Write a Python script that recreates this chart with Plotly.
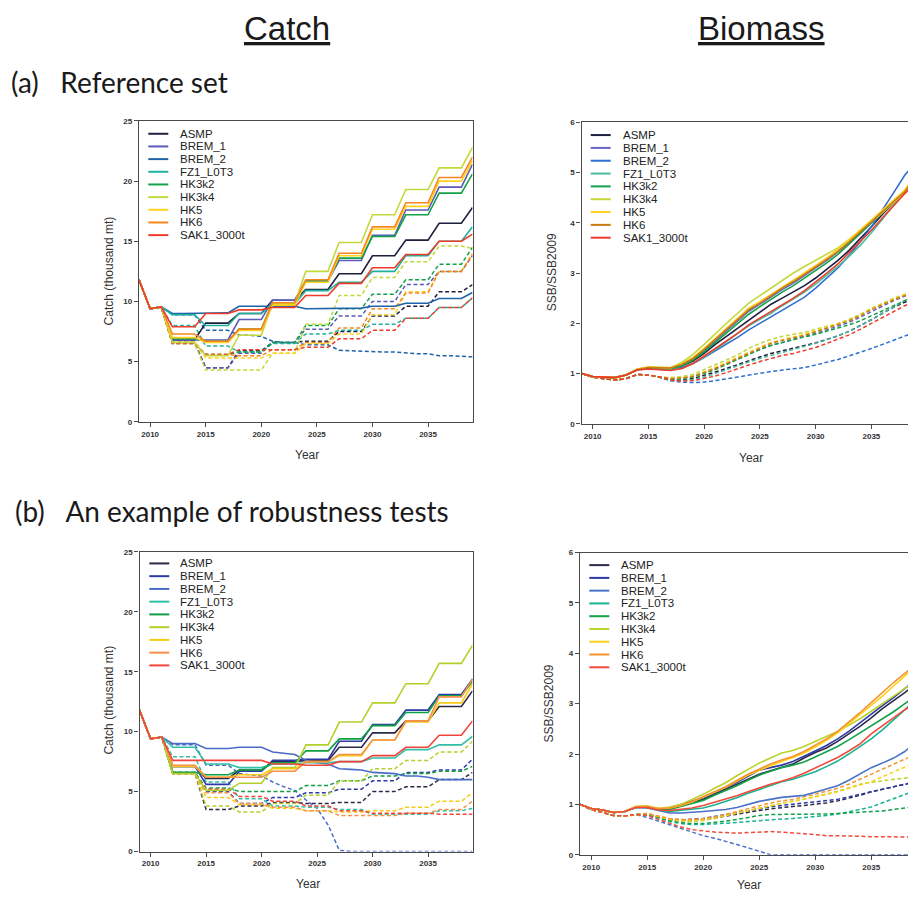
import plotly.graph_objects as go

YEARS = list(range(2009, 2040))
SCENARIOS = ["ASMP", "BREM_1", "BREM_2", "FZ1_L0T3", "HK3k2", "HK3k4", "HK5", "HK6", "SAK1_3000t"]

# ---------------- (a) Reference set : Catch ----------------
A_CATCH_MED = {
    "ASMP": [11.8, 9.4, 9.55, 6.8, 6.8, 6.8, 8.2, 8.2, 8.2, 9.0, 9.0, 9.0, 10.1, 10.1, 10.1, 11.0, 11.0, 11.0, 12.3, 12.3, 12.3, 13.8, 13.8, 13.8, 15.1, 15.1, 15.1, 16.5, 16.5, 16.5, 17.8],
    "BREM_1": [11.8, 9.4, 9.55, 6.8, 6.8, 6.8, 6.8, 6.8, 6.8, 8.5, 8.5, 8.5, 10.1, 10.1, 10.1, 11.7, 11.7, 11.7, 13.4, 13.4, 13.4, 15.5, 15.5, 15.5, 17.6, 17.6, 17.6, 19.5, 19.5, 19.5, 21.4],
    "BREM_2": [11.8, 9.4, 9.55, 9.0, 9.0, 9.0, 9.05, 9.05, 9.05, 9.6, 9.6, 9.6, 9.6, 9.6, 9.6, 9.4, 9.4, 9.4, 9.4, 9.4, 9.45, 9.6, 9.6, 9.6, 9.85, 9.85, 9.85, 10.25, 10.25, 10.25, 10.75],
    "FZ1_L0T3": [11.8, 9.4, 9.55, 8.9, 8.9, 8.9, 8.0, 8.0, 8.0, 9.0, 9.0, 9.0, 9.8, 9.8, 9.8, 10.9, 10.9, 10.9, 11.6, 11.6, 11.6, 12.5, 12.5, 12.5, 13.8, 13.8, 13.8, 15.0, 15.0, 15.0, 16.2],
    "HK3k2": [11.8, 9.4, 9.55, 6.9, 6.9, 6.9, 6.7, 6.7, 6.7, 7.7, 7.7, 7.7, 9.9, 9.9, 9.9, 11.7, 11.7, 11.7, 13.6, 13.6, 13.6, 15.4, 15.4, 15.4, 17.2, 17.2, 17.2, 19.0, 19.0, 19.0, 20.6],
    "HK3k4": [11.8, 9.4, 9.55, 6.6, 6.6, 6.6, 5.5, 5.5, 5.5, 7.2, 7.2, 7.2, 9.8, 9.8, 9.8, 12.5, 12.5, 12.5, 14.9, 14.9, 14.9, 17.2, 17.2, 17.2, 19.3, 19.3, 19.3, 21.1, 21.1, 21.1, 22.8],
    "HK5": [11.8, 9.4, 9.55, 7.0, 7.0, 7.0, 6.6, 6.6, 6.6, 7.6, 7.6, 7.6, 9.7, 9.7, 9.7, 11.6, 11.6, 11.6, 13.8, 13.8, 13.8, 16.0, 16.0, 16.0, 17.9, 17.9, 17.9, 20.0, 20.0, 20.0, 21.7],
    "HK6": [11.8, 9.4, 9.55, 7.3, 7.3, 7.3, 6.7, 6.7, 6.7, 7.7, 7.7, 7.7, 9.9, 9.9, 9.9, 11.8, 11.8, 11.8, 14.0, 14.0, 14.0, 16.2, 16.2, 16.2, 18.2, 18.2, 18.2, 20.3, 20.3, 20.3, 22.0],
    "SAK1_3000t": [11.8, 9.4, 9.55, 7.9, 7.9, 7.9, 9.0, 9.0, 9.0, 9.3, 9.3, 9.3, 9.5, 9.5, 9.5, 10.5, 10.5, 10.5, 11.5, 11.5, 11.5, 12.8, 12.8, 12.8, 13.9, 13.9, 13.9, 15.0, 15.0, 15.0, 15.6],
}
A_CATCH_LOW = {
    "ASMP": [11.8, 9.4, 9.55, 6.6, 6.6, 6.6, 4.5, 4.5, 4.5, 5.9, 5.9, 5.9, 6.6, 6.6, 6.6, 6.7, 6.7, 6.7, 7.5, 7.5, 7.5, 8.8, 8.8, 8.8, 9.6, 9.6, 9.6, 10.8, 10.8, 10.8, 11.4],
    "BREM_1": [11.8, 9.4, 9.55, 6.6, 6.6, 6.6, 4.5, 4.5, 4.5, 5.7, 5.7, 5.7, 6.6, 6.6, 6.6, 7.7, 7.7, 7.7, 8.8, 8.8, 8.8, 10.0, 10.0, 10.0, 11.4, 11.4, 11.4, 12.5, 12.5, 12.5, 13.8],
    "BREM_2": [11.8, 9.4, 9.55, 8.9, 8.9, 8.9, 7.6, 7.6, 7.6, 7.2, 7.2, 7.1, 6.7, 6.6, 6.6, 6.4, 6.4, 6.4, 5.95, 5.9, 5.9, 5.85, 5.8, 5.8, 5.7, 5.65, 5.65, 5.5, 5.5, 5.45, 5.4],
    "FZ1_L0T3": [11.8, 9.4, 9.55, 8.0, 8.0, 8.0, 6.3, 6.3, 6.3, 5.8, 5.8, 5.8, 6.5, 6.5, 6.5, 7.3, 7.3, 7.3, 7.6, 7.6, 7.6, 8.1, 8.1, 8.1, 8.6, 8.6, 8.6, 9.5, 9.5, 9.5, 10.3],
    "HK3k2": [11.8, 9.4, 9.55, 6.5, 6.5, 6.5, 5.6, 5.6, 5.6, 5.8, 5.8, 5.8, 6.6, 6.6, 6.6, 8.0, 8.0, 8.0, 9.4, 9.4, 9.4, 10.6, 10.6, 10.6, 11.8, 11.8, 11.8, 13.1, 13.1, 13.1, 14.5],
    "HK3k4": [11.8, 9.4, 9.55, 6.5, 6.5, 6.5, 4.3, 4.3, 4.3, 4.3, 4.3, 4.3, 5.7, 5.7, 5.7, 8.1, 8.1, 8.1, 10.5, 10.5, 10.5, 12.0, 12.0, 12.0, 13.3, 13.3, 13.3, 14.6, 14.6, 14.6, 14.4],
    "HK5": [11.8, 9.4, 9.55, 6.6, 6.6, 6.6, 5.3, 5.3, 5.3, 5.3, 5.3, 5.3, 5.7, 5.7, 5.7, 6.5, 6.5, 6.5, 7.3, 7.3, 7.3, 8.9, 8.9, 8.9, 10.8, 10.8, 10.8, 12.5, 12.5, 12.5, 14.0],
    "HK6": [11.8, 9.4, 9.55, 6.6, 6.6, 6.6, 5.6, 5.6, 5.6, 5.5, 5.5, 5.5, 6.0, 6.0, 6.0, 6.6, 6.6, 6.6, 7.8, 7.8, 7.8, 9.4, 9.4, 9.4, 10.7, 10.7, 10.7, 12.5, 12.5, 12.5, 13.9],
    "SAK1_3000t": [11.8, 9.4, 9.55, 6.5, 6.5, 6.5, 5.6, 5.6, 5.6, 6.0, 6.0, 6.0, 6.0, 6.0, 6.0, 6.2, 6.2, 6.2, 6.9, 6.9, 6.9, 7.6, 7.6, 7.6, 8.6, 8.6, 8.6, 9.5, 9.5, 9.5, 10.3],
}

# ---------------- (a) Reference set : Biomass ----------------
A_BIO_MED = {
    "ASMP": [1.0, 0.94, 0.93, 0.92, 0.97, 1.08, 1.12, 1.11, 1.1, 1.15, 1.25, 1.4, 1.58, 1.74, 1.9, 2.07, 2.22, 2.38, 2.5, 2.62, 2.75, 2.9, 3.07, 3.25, 3.45, 3.68, 3.92, 4.17, 4.4, 4.62, 4.9],
    "BREM_1": [1.0, 0.94, 0.93, 0.92, 0.97, 1.08, 1.12, 1.11, 1.1, 1.17, 1.29, 1.46, 1.66, 1.86, 2.05, 2.24, 2.38, 2.53, 2.67, 2.8, 2.95, 3.1, 3.25, 3.42, 3.6, 3.8, 4.0, 4.2, 4.42, 4.62, 4.85],
    "BREM_2": [1.0, 0.94, 0.93, 0.92, 0.97, 1.07, 1.1, 1.08, 1.07, 1.12, 1.2, 1.32, 1.45, 1.58, 1.72, 1.87, 2.0, 2.12, 2.25, 2.38, 2.52, 2.7, 2.9, 3.1, 3.35, 3.62, 3.92, 4.25, 4.6, 4.95, 5.2],
    "FZ1_L0T3": [1.0, 0.94, 0.93, 0.92, 0.97, 1.08, 1.11, 1.1, 1.08, 1.1, 1.2, 1.33, 1.48, 1.63, 1.8, 1.95, 2.08, 2.2, 2.35, 2.48, 2.62, 2.78, 2.95, 3.13, 3.33, 3.55, 3.8, 4.08, 4.35, 4.62, 4.88],
    "HK3k2": [1.0, 0.94, 0.93, 0.92, 0.97, 1.08, 1.12, 1.11, 1.1, 1.15, 1.27, 1.43, 1.62, 1.8, 2.0, 2.18, 2.33, 2.48, 2.62, 2.75, 2.9, 3.05, 3.2, 3.37, 3.57, 3.78, 4.0, 4.2, 4.42, 4.63, 4.9],
    "HK3k4": [1.0, 0.94, 0.93, 0.92, 0.97, 1.09, 1.13, 1.12, 1.12, 1.22, 1.38, 1.58, 1.8, 2.0, 2.2, 2.4, 2.55, 2.7, 2.85, 3.0, 3.13, 3.25, 3.37, 3.5, 3.67, 3.85, 4.03, 4.2, 4.4, 4.6, 4.98],
    "HK5": [1.0, 0.94, 0.93, 0.92, 0.97, 1.09, 1.13, 1.12, 1.11, 1.19, 1.32, 1.5, 1.7, 1.9, 2.1, 2.3, 2.43, 2.58, 2.72, 2.86, 3.0, 3.15, 3.3, 3.47, 3.66, 3.86, 4.06, 4.25, 4.45, 4.65, 4.96],
    "HK6": [1.0, 0.94, 0.93, 0.92, 0.97, 1.08, 1.12, 1.11, 1.11, 1.18, 1.3, 1.48, 1.68, 1.88, 2.08, 2.27, 2.4, 2.55, 2.7, 2.83, 2.97, 3.12, 3.27, 3.43, 3.62, 3.82, 4.02, 4.22, 4.42, 4.62, 4.93],
    "SAK1_3000t": [1.0, 0.94, 0.93, 0.92, 0.97, 1.07, 1.09, 1.07, 1.06, 1.1, 1.2, 1.35, 1.5, 1.65, 1.8, 1.97, 2.1, 2.23, 2.37, 2.5, 2.65, 2.82, 3.0, 3.18, 3.4, 3.62, 3.85, 4.1, 4.35, 4.58, 4.8],
}
A_BIO_LOW = {
    "ASMP": [1.0, 0.93, 0.9, 0.87, 0.9, 0.98, 0.97, 0.93, 0.86, 0.87, 0.9, 0.96, 1.03, 1.1, 1.18, 1.26, 1.33, 1.4, 1.45, 1.5, 1.55, 1.61, 1.68, 1.75, 1.84, 1.95, 2.07, 2.2, 2.32, 2.42, 2.5],
    "BREM_1": [1.0, 0.93, 0.9, 0.87, 0.9, 0.98, 0.97, 0.93, 0.89, 0.91, 0.95, 1.02, 1.1, 1.19, 1.29, 1.39, 1.48, 1.56, 1.62, 1.68, 1.73, 1.8, 1.87, 1.94, 2.02, 2.12, 2.23, 2.34, 2.45, 2.54, 2.62],
    "BREM_2": [1.0, 0.93, 0.9, 0.87, 0.9, 0.98, 0.97, 0.93, 0.86, 0.83, 0.82, 0.83, 0.86, 0.89, 0.93, 0.97, 1.01, 1.04, 1.07, 1.09, 1.12, 1.17, 1.22, 1.28, 1.35, 1.42, 1.5, 1.58, 1.66, 1.74, 1.83],
    "FZ1_L0T3": [1.0, 0.93, 0.9, 0.87, 0.9, 0.98, 0.97, 0.93, 0.86, 0.86, 0.88, 0.93, 1.0, 1.08, 1.15, 1.23, 1.3, 1.36, 1.42, 1.47, 1.53, 1.6, 1.67, 1.75, 1.84, 1.95, 2.08, 2.2, 2.32, 2.45, 2.58],
    "HK3k2": [1.0, 0.93, 0.9, 0.87, 0.9, 0.98, 0.97, 0.93, 0.88, 0.9, 0.93, 1.0, 1.08, 1.18, 1.28, 1.38, 1.48, 1.56, 1.62, 1.68, 1.73, 1.78, 1.84, 1.9, 1.97, 2.05, 2.15, 2.25, 2.35, 2.45, 2.55],
    "HK3k4": [1.0, 0.93, 0.9, 0.87, 0.9, 0.98, 0.97, 0.93, 0.92, 0.94, 0.98, 1.08, 1.18, 1.27, 1.37, 1.5, 1.6, 1.68, 1.74, 1.78, 1.82, 1.88, 1.94, 2.0, 2.08, 2.18, 2.3, 2.4, 2.5, 2.58, 2.65],
    "HK5": [1.0, 0.93, 0.9, 0.87, 0.9, 0.98, 0.97, 0.93, 0.9, 0.92, 0.95, 1.03, 1.12, 1.22, 1.32, 1.43, 1.53, 1.62, 1.68, 1.73, 1.78, 1.85, 1.92, 1.98, 2.06, 2.16, 2.28, 2.38, 2.48, 2.57, 2.66],
    "HK6": [1.0, 0.93, 0.9, 0.87, 0.9, 0.98, 0.97, 0.93, 0.9, 0.91, 0.94, 1.02, 1.1, 1.2, 1.3, 1.41, 1.51, 1.6, 1.66, 1.71, 1.76, 1.83, 1.9, 1.97, 2.05, 2.15, 2.27, 2.37, 2.47, 2.55, 2.63],
    "SAK1_3000t": [1.0, 0.93, 0.9, 0.87, 0.9, 0.98, 0.97, 0.93, 0.87, 0.85, 0.86, 0.9, 0.95, 1.02, 1.1, 1.17, 1.24, 1.3, 1.36, 1.4, 1.46, 1.52, 1.6, 1.68, 1.77, 1.88, 2.0, 2.12, 2.24, 2.35, 2.45],
}

# ---------------- (b) Robustness test : Catch ----------------
B_CATCH_MED = {
    "ASMP": [11.8, 9.4, 9.55, 7.1, 7.1, 7.1, 6.1, 6.1, 6.1, 6.8, 6.8, 6.8, 7.5, 7.5, 7.5, 7.6, 7.6, 7.6, 8.7, 8.7, 8.7, 9.9, 9.9, 9.9, 10.9, 10.9, 10.9, 12.1, 12.1, 12.1, 13.4],
    "BREM_1": [11.8, 9.4, 9.55, 7.1, 7.1, 7.1, 5.6, 5.6, 5.6, 6.7, 6.7, 6.7, 7.6, 7.6, 7.6, 7.7, 7.7, 7.7, 9.2, 9.2, 9.2, 10.6, 10.6, 10.6, 11.8, 11.8, 11.8, 13.1, 13.1, 13.1, 14.4],
    "BREM_2": [11.8, 9.4, 9.55, 9.0, 9.0, 9.0, 8.6, 8.6, 8.6, 8.7, 8.7, 8.7, 8.3, 8.2, 8.1, 7.6, 7.4, 7.3, 6.9, 6.85, 6.8, 6.6, 6.55, 6.5, 6.3, 6.3, 6.2, 6.0, 6.0, 6.0, 6.0],
    "FZ1_L0T3": [11.8, 9.4, 9.55, 8.7, 8.7, 8.7, 7.3, 7.3, 7.3, 7.0, 7.0, 7.0, 7.3, 7.3, 7.3, 7.4, 7.4, 7.4, 7.5, 7.5, 7.5, 7.8, 7.8, 7.8, 8.5, 8.5, 8.5, 8.9, 8.9, 8.9, 9.6],
    "HK3k2": [11.8, 9.4, 9.55, 6.6, 6.6, 6.6, 6.4, 6.4, 6.4, 6.8, 6.8, 6.8, 7.4, 7.4, 7.4, 8.4, 8.4, 8.4, 9.4, 9.4, 9.4, 10.5, 10.5, 10.5, 11.6, 11.6, 11.6, 13.0, 13.0, 13.0, 14.2],
    "HK3k4": [11.8, 9.4, 9.55, 6.5, 6.5, 6.5, 5.1, 5.1, 5.1, 5.7, 5.7, 5.7, 7.0, 7.0, 7.0, 8.9, 8.9, 8.9, 10.8, 10.8, 10.8, 12.4, 12.4, 12.4, 14.0, 14.0, 14.0, 15.7, 15.7, 15.7, 17.2],
    "HK5": [11.8, 9.4, 9.55, 7.1, 7.1, 7.1, 6.2, 6.2, 6.2, 6.4, 6.4, 6.4, 6.9, 6.9, 6.9, 7.5, 7.5, 7.5, 8.0, 8.0, 8.0, 9.3, 9.3, 9.3, 10.8, 10.8, 10.8, 12.4, 12.4, 12.4, 14.0],
    "HK6": [11.8, 9.4, 9.55, 7.2, 7.2, 7.2, 6.2, 6.2, 6.2, 6.2, 6.2, 6.2, 6.7, 6.7, 6.7, 7.5, 7.5, 7.5, 8.1, 8.1, 8.1, 9.3, 9.3, 9.3, 10.9, 10.9, 10.9, 12.9, 12.9, 12.9, 14.4],
    "SAK1_3000t": [11.8, 9.4, 9.55, 7.6, 7.6, 7.6, 7.6, 7.6, 7.6, 7.6, 7.6, 7.6, 7.3, 7.3, 7.3, 7.2, 7.2, 7.2, 7.5, 7.5, 7.5, 8.0, 8.0, 8.0, 8.7, 8.7, 8.7, 9.7, 9.7, 9.7, 10.9],
}
B_CATCH_LOW = {
    "ASMP": [11.8, 9.4, 9.55, 6.5, 6.5, 6.5, 3.5, 3.5, 3.5, 3.8, 3.8, 3.8, 4.1, 4.1, 4.1, 4.0, 4.0, 4.0, 4.1, 4.1, 4.1, 5.0, 5.0, 5.0, 5.4, 5.4, 5.4, 6.0, 6.0, 6.0, 6.6],
    "BREM_1": [11.8, 9.4, 9.55, 6.6, 6.6, 6.6, 5.0, 5.0, 5.0, 4.0, 4.0, 4.0, 4.5, 4.5, 4.5, 4.9, 4.9, 4.9, 5.2, 5.2, 5.2, 5.9, 5.9, 5.9, 6.6, 6.6, 6.6, 6.8, 6.8, 6.8, 7.7],
    "BREM_2": [11.8, 9.4, 9.55, 8.9, 8.9, 8.9, 7.2, 7.2, 7.2, 6.5, 6.4, 6.3, 5.8, 5.4, 5.1, 4.3, 3.6, 2.2, 0.1, 0.0, 0.0, 0.0, 0.0, 0.0, 0.0, 0.0, 0.0, 0.0, 0.0, 0.0, 0.0],
    "FZ1_L0T3": [11.8, 9.4, 9.55, 7.9, 7.9, 7.9, 5.8, 5.8, 5.8, 4.4, 4.4, 4.4, 3.8, 3.8, 3.8, 3.7, 3.7, 3.7, 3.5, 3.5, 3.5, 3.1, 3.1, 3.1, 3.1, 3.1, 3.1, 3.4, 3.4, 3.4, 3.6],
    "HK3k2": [11.8, 9.4, 9.55, 6.6, 6.6, 6.6, 5.3, 5.3, 5.3, 5.0, 5.0, 5.0, 5.0, 5.0, 5.0, 5.5, 5.5, 5.5, 5.9, 5.9, 5.9, 6.3, 6.3, 6.3, 6.5, 6.5, 6.5, 6.7, 6.7, 6.7, 7.1],
    "HK3k4": [11.8, 9.4, 9.55, 6.5, 6.5, 6.5, 3.8, 3.8, 3.8, 3.3, 3.3, 3.3, 4.0, 4.0, 4.0, 4.7, 4.7, 4.7, 5.9, 5.9, 5.9, 6.9, 6.9, 6.9, 7.6, 7.6, 7.6, 8.3, 8.3, 8.3, 9.2],
    "HK5": [11.8, 9.4, 9.55, 6.5, 6.5, 6.5, 4.5, 4.5, 4.5, 3.9, 3.9, 3.9, 3.6, 3.6, 3.6, 3.4, 3.4, 3.4, 3.3, 3.3, 3.3, 3.4, 3.4, 3.4, 3.7, 3.7, 3.7, 4.2, 4.2, 4.2, 4.9],
    "HK6": [11.8, 9.4, 9.55, 6.5, 6.5, 6.5, 4.9, 4.9, 4.9, 4.0, 4.0, 4.0, 3.7, 3.7, 3.7, 3.4, 3.4, 3.4, 3.0, 3.0, 3.0, 3.0, 3.0, 3.0, 3.2, 3.2, 3.2, 3.5, 3.5, 3.5, 4.2],
    "SAK1_3000t": [11.8, 9.4, 9.55, 6.5, 6.5, 6.5, 5.2, 5.2, 5.2, 4.6, 4.6, 4.6, 4.2, 4.2, 4.2, 3.8, 3.8, 3.8, 3.4, 3.4, 3.4, 3.2, 3.2, 3.2, 3.2, 3.2, 3.2, 3.1, 3.1, 3.1, 3.1],
}

# ---------------- (b) Robustness test : Biomass ----------------
B_BIO_MED = {
    "ASMP": [1.0, 0.92, 0.89, 0.84, 0.86, 0.95, 0.95, 0.9, 0.92, 0.98, 1.04, 1.1, 1.2, 1.3, 1.4, 1.5, 1.6, 1.67, 1.74, 1.8, 1.92, 2.03, 2.12, 2.25, 2.4, 2.55, 2.72, 2.9, 3.06, 3.22, 3.4],
    "BREM_1": [1.0, 0.92, 0.89, 0.84, 0.86, 0.95, 0.95, 0.9, 0.93, 1.0, 1.06, 1.13, 1.23, 1.33, 1.44, 1.56, 1.68, 1.73, 1.78, 1.85, 1.95, 2.06, 2.17, 2.3, 2.45, 2.62, 2.8, 2.96, 3.12, 3.3, 3.48],
    "BREM_2": [1.0, 0.92, 0.89, 0.84, 0.86, 0.94, 0.93, 0.88, 0.83, 0.83, 0.84, 0.86, 0.88, 0.9, 0.94, 1.0, 1.06, 1.1, 1.14, 1.16, 1.18, 1.24, 1.3, 1.37, 1.48, 1.6, 1.73, 1.82, 1.92, 2.05, 2.24],
    "FZ1_L0T3": [1.0, 0.92, 0.89, 0.84, 0.86, 0.94, 0.94, 0.89, 0.86, 0.88, 0.9, 0.93, 0.99, 1.06, 1.13, 1.22, 1.3, 1.38, 1.45, 1.5, 1.57, 1.65, 1.75, 1.86, 2.0, 2.15, 2.3, 2.48, 2.68, 2.88, 3.08],
    "HK3k2": [1.0, 0.92, 0.89, 0.84, 0.86, 0.95, 0.95, 0.9, 0.9, 0.96, 1.02, 1.08, 1.18, 1.27, 1.37, 1.48, 1.58, 1.66, 1.73, 1.78, 1.84, 1.94, 2.04, 2.15, 2.28, 2.42, 2.56, 2.7, 2.84, 3.0, 3.15],
    "HK3k4": [1.0, 0.92, 0.89, 0.84, 0.86, 0.96, 0.97, 0.92, 0.95, 1.0, 1.1, 1.2, 1.32, 1.43, 1.57, 1.7, 1.82, 1.92, 2.02, 2.07, 2.15, 2.25, 2.35, 2.45, 2.57, 2.7, 2.85, 3.0, 3.15, 3.3, 3.45],
    "HK5": [1.0, 0.92, 0.89, 0.84, 0.86, 0.96, 0.96, 0.92, 0.93, 0.98, 1.05, 1.14, 1.24, 1.34, 1.46, 1.58, 1.68, 1.77, 1.85, 1.93, 2.02, 2.14, 2.27, 2.42, 2.6, 2.78, 2.96, 3.15, 3.35, 3.55, 3.75],
    "HK6": [1.0, 0.92, 0.89, 0.84, 0.86, 0.96, 0.96, 0.92, 0.93, 0.98, 1.06, 1.15, 1.25, 1.35, 1.48, 1.6, 1.7, 1.8, 1.88, 1.95, 2.05, 2.17, 2.3, 2.45, 2.63, 2.82, 3.02, 3.22, 3.42, 3.6, 3.78],
    "SAK1_3000t": [1.0, 0.92, 0.89, 0.84, 0.86, 0.94, 0.94, 0.89, 0.88, 0.9, 0.93, 0.98, 1.04, 1.1, 1.17, 1.25, 1.33, 1.4, 1.46, 1.53, 1.62, 1.72, 1.82, 1.93, 2.06, 2.2, 2.4, 2.56, 2.72, 2.88, 3.02],
}
B_BIO_LOW = {
    "ASMP": [1.0, 0.9, 0.84, 0.78, 0.77, 0.8, 0.8, 0.75, 0.7, 0.68, 0.69, 0.7, 0.73, 0.77, 0.81, 0.84, 0.88, 0.91, 0.94, 0.96, 0.98, 1.0, 1.03, 1.07, 1.12, 1.18, 1.25, 1.3, 1.35, 1.4, 1.43],
    "BREM_1": [1.0, 0.9, 0.84, 0.78, 0.77, 0.8, 0.8, 0.76, 0.71, 0.69, 0.7, 0.72, 0.76, 0.8, 0.84, 0.88, 0.92, 0.95, 0.98, 1.01, 1.03, 1.05, 1.07, 1.1, 1.15, 1.2, 1.25, 1.3, 1.35, 1.4, 1.45],
    "BREM_2": [1.0, 0.9, 0.84, 0.78, 0.77, 0.8, 0.74, 0.67, 0.6, 0.53, 0.46, 0.38, 0.33, 0.27, 0.2, 0.14, 0.07, 0.0, 0.0, 0.0, 0.0, 0.0, 0.0, 0.0, 0.0, 0.0, 0.0, 0.0, 0.0, 0.0, 0.0],
    "FZ1_L0T3": [1.0, 0.9, 0.84, 0.78, 0.77, 0.8, 0.79, 0.72, 0.66, 0.62, 0.6, 0.6, 0.61, 0.62, 0.64, 0.66, 0.68, 0.7, 0.71, 0.72, 0.74, 0.75, 0.78, 0.81, 0.85, 0.9, 0.95, 1.03, 1.12, 1.2, 1.28],
    "HK3k2": [1.0, 0.9, 0.84, 0.78, 0.77, 0.8, 0.8, 0.74, 0.68, 0.64, 0.62, 0.62, 0.64, 0.67, 0.7, 0.74, 0.78, 0.8, 0.8, 0.8, 0.8, 0.8, 0.81, 0.82, 0.83, 0.84, 0.85, 0.87, 0.9, 0.93, 0.96],
    "HK3k4": [1.0, 0.9, 0.84, 0.78, 0.77, 0.8, 0.82, 0.76, 0.7, 0.67, 0.66, 0.68, 0.72, 0.78, 0.83, 0.88, 0.93, 0.98, 1.03, 1.07, 1.1, 1.15, 1.2, 1.26, 1.33, 1.4, 1.44, 1.47, 1.5, 1.53, 1.55],
    "HK5": [1.0, 0.9, 0.84, 0.78, 0.77, 0.8, 0.82, 0.76, 0.71, 0.68, 0.68, 0.7, 0.73, 0.78, 0.83, 0.88, 0.93, 0.98, 1.02, 1.06, 1.1, 1.15, 1.2, 1.25, 1.32, 1.38, 1.45, 1.55, 1.65, 1.74, 1.83],
    "HK6": [1.0, 0.9, 0.84, 0.78, 0.77, 0.8, 0.82, 0.77, 0.72, 0.7, 0.7, 0.72, 0.75, 0.8, 0.86, 0.92, 0.98, 1.03, 1.07, 1.1, 1.15, 1.2, 1.26, 1.32, 1.4, 1.5, 1.6, 1.7, 1.8, 1.9, 1.98],
    "SAK1_3000t": [1.0, 0.9, 0.84, 0.78, 0.77, 0.8, 0.78, 0.7, 0.62, 0.55, 0.5, 0.47, 0.45, 0.44, 0.43, 0.44, 0.45, 0.46, 0.45, 0.44, 0.42, 0.4, 0.38, 0.38, 0.37, 0.36, 0.36, 0.36, 0.36, 0.36, 0.35],
}

COL_A_CATCH = ["#1c1f3f", "#5a5ab8", "#1f63a8", "#1fb19d", "#13a14a", "#c5d83a", "#ffd21f", "#f7861f", "#ee3b2b"]
COL_A_BIO = ["#1c1f3f", "#6464c4", "#2f6fd0", "#4fbb9f", "#13a14a", "#c5d83a", "#ffd21f", "#c97a12", "#ee3b2b"]
COL_B_CATCH = ["#2a2a48", "#2d3aa6", "#4a6cc8", "#2fc0a6", "#0fa043", "#b6d02a", "#f6cb12", "#f6904a", "#f2443a"]
COL_B_BIO = ["#2a2a48", "#2d3aa6", "#4a72c8", "#17b394", "#13a14a", "#b9d32a", "#fbd118", "#f6932f", "#f24a3a"]

W, H = 916, 900
OFF = 8  # the page body adds an 8 px margin; positions below are screen pixels

def px(x):
    return min(1.0, (x - OFF) / W)

def py(y):
    return 1 - (y - OFF) / H

fig = go.Figure()
panels = [
    ("x", "y", A_CATCH_MED, A_CATCH_LOW, COL_A_CATCH),
    ("x2", "y2", A_BIO_MED, A_BIO_LOW, COL_A_BIO),
    ("x3", "y3", B_CATCH_MED, B_CATCH_LOW, COL_B_CATCH),
    ("x4", "y4", B_BIO_MED, B_BIO_LOW, COL_B_BIO),
]
for xa, ya, med, low, cols in panels:
    for name, c in zip(SCENARIOS, cols):
        fig.add_trace(go.Scatter(x=YEARS, y=low[name], xaxis=xa, yaxis=ya, mode="lines", name=name,
                                 line=dict(color=c, width=1.5, dash="4px,2.5px"), showlegend=False,
                                 hoverinfo="skip"))
    for name, c in zip(SCENARIOS, cols):
        fig.add_trace(go.Scatter(x=YEARS, y=med[name], xaxis=xa, yaxis=ya, mode="lines", name=name,
                                 line=dict(color=c, width=1.6), showlegend=False))

AX = "#4a4a4a"
TICKFONT = dict(family="Liberation Sans", size=8, color="#333", weight="bold")

def xaxis(dom, anchor):
    return dict(domain=dom, anchor=anchor, range=[2009, 2039], tickvals=[2010, 2015, 2020, 2025, 2030, 2035],
                ticks="outside", ticklen=4, tickwidth=1, tickcolor=AX, showline=True, linecolor=AX,
                linewidth=1.3, mirror=True, showgrid=False, zeroline=False, tickfont=TICKFONT)

def yaxis(dom, anchor, top, step, mirror):
    return dict(domain=dom, anchor=anchor, range=[0, top], tickvals=list(range(0, top + 1, step)),
                ticks="outside", ticklen=4, tickwidth=1, tickcolor=AX, showline=True, linecolor=AX,
                linewidth=1.3, mirror=mirror, showgrid=False, zeroline=False, tickfont=TICKFONT)

layout_axes = dict(
    xaxis=xaxis([px(139), px(472.5)], "y"),
    yaxis=yaxis([py(422), py(118)], "x", 25, 5, True),
    xaxis2=xaxis([px(581.5), px(916)], "y2"),
    yaxis2=yaxis([py(424), py(119.3)], "x2", 6, 1, False),
    xaxis3=xaxis([px(139.5), px(472.5)], "y3"),
    yaxis3=yaxis([py(856), py(553.3)], "x3", 25, 5, True),
    xaxis4=xaxis([px(580), px(916)], "y4"),
    yaxis4=yaxis([py(859.3), py(554)], "x4", 6, 1, False),
)

annotations = []
shapes = []

def text(x, y, s, size, family="Liberation Sans", xanchor="center", color="#222", angle=0):
    annotations.append(dict(x=px(x), y=py(y), xref="paper", yref="paper", text=s, showarrow=False,
                            xanchor=xanchor, yanchor="middle", textangle=angle,
                            font=dict(family=family, size=size, color=color)))

# headings
text(287, 25, "<u>Catch</u>", 33, color="#1a1a1a")
text(761, 25, "<u>Biomass</u>", 33, color="#1a1a1a")
text(9, 79, "(a)\u00a0\u00a0\u00a0Reference set", 28, family="Lato", xanchor="left", color="#1a1a1a")
text(13, 512, "(b)\u00a0\u00a0\u00a0An example of robustness tests", 28, family="Lato", xanchor="left", color="#1a1a1a")

# axis titles
text(306.5, 455, "Year", 12, color="#333")
text(109, 270, "Catch (thousand mt)", 12, color="#333", angle=-90)
text(750.5, 458, "Year", 12, color="#333")
text(551.5, 271.5, "SSB/SSB2009", 12, color="#333", angle=-90)
text(307.5, 889, "Year", 12, color="#333")
text(109.5, 703, "Catch (thousand mt)", 12, color="#333", angle=-90)
text(749, 890, "Year", 12, color="#333")
text(549, 706.5, "SSB/SSB2009", 12, color="#333", angle=-90)

# in-panel legends
legends = [
    (148.3, 168.3, 177.7, 131.0, 12.8, COL_A_CATCH),
    (590.7, 610.7, 620.7, 132.3, 12.96, COL_A_BIO),
    (149.3, 169.3, 178.3, 565.0, 12.875, COL_B_CATCH),
    (589.3, 609.3, 619.3, 566.7, 12.9, COL_B_BIO),
]
for x0, x1, xt, y0, dy, cols in legends:
    for i, (name, c) in enumerate(zip(SCENARIOS, cols)):
        yy = y0 + i * dy
        shapes.append(dict(type="line", xref="paper", yref="paper", x0=px(x0), x1=px(x1),
                           y0=py(yy), y1=py(yy), line=dict(color=c, width=2)))
        text(xt, yy, name, 11.5, xanchor="left", color="#222")

fig.update_layout(
    width=W, height=H, margin=dict(l=0, r=0, t=0, b=0),
    paper_bgcolor="white", plot_bgcolor="white",
    showlegend=False, annotations=annotations, shapes=shapes,
    **layout_axes,
)

fig.write_html("out.html")
